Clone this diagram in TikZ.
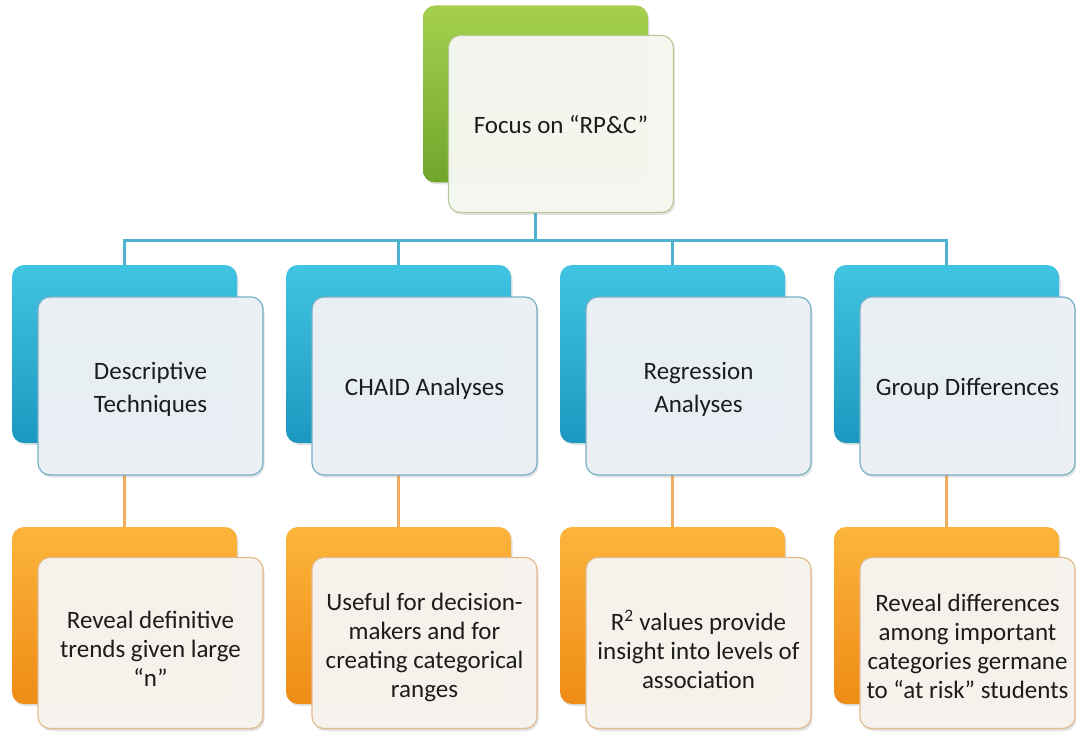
\documentclass[tikz,border=0pt]{standalone}
\usepackage{fontspec}
\setmainfont{Carlito}
\usetikzlibrary{shadows}
\definecolor{grnT}{RGB}{165,208,78}
\definecolor{grnB}{RGB}{112,165,42}
\definecolor{bluT}{RGB}{64,196,226}
\definecolor{bluB}{RGB}{28,152,192}
\definecolor{orgT}{RGB}{252,180,58}
\definecolor{orgB}{RGB}{238,140,22}
\definecolor{busblue}{RGB}{78,178,208}
\definecolor{linkorg}{RGB}{240,172,96}
\definecolor{gfill}{RGB}{246,248,242}
\definecolor{gedge}{RGB}{186,204,150}
\definecolor{bfill}{RGB}{237,241,245}
\definecolor{bedge}{RGB}{118,176,198}
\definecolor{ofill}{RGB}{247,244,240}
\definecolor{oedge}{RGB}{226,186,140}
\definecolor{txt}{RGB}{28,28,28}
\begin{document}
\begin{tikzpicture}[x=1pt,y=-1pt,
  back/.style={rounded corners=12pt, minimum width=225pt, inner sep=0pt,
    drop shadow={shadow xshift=1.5pt,shadow yshift=-2pt,opacity=0.22}},
  greenback/.style={back, minimum height=177pt, top color=grnT, bottom color=grnB},
  blueback/.style={back, minimum height=178pt, top color=bluT, bottom color=bluB},
  orangeback/.style={back, minimum height=177pt, top color=orgT, bottom color=orgB},
  front/.style={rounded corners=12pt, minimum width=225pt, inner sep=0pt,
    fill opacity=0.975, line width=1.2pt,
    drop shadow={shadow xshift=1.5pt,shadow yshift=-2.5pt,opacity=0.22}},
  greenfront/.style={front, minimum height=177pt, fill=gfill, draw=gedge},
  bluefront/.style={front, minimum height=178pt, fill=bfill, draw=bedge},
  orangefront/.style={front, minimum height=171pt, fill=ofill, draw=oedge},
  boxtext/.style={align=center, text=txt, inner sep=0pt, font=\fontsize{25}{29}\selectfont},
  midtext/.style={boxtext, font=\fontsize{25}{33}\selectfont},
  bus/.style={draw=busblue, line width=3pt},
  link/.style={draw=linkorg, line width=2.6pt},
]
\useasboundingbox (0,0) rectangle (1076,738);
\fill[white] (0,0) rectangle (1076,738);

% back boxes
\node[greenback] (tb) at (535.5,94) {};
\node[blueback] (m1b) at (124.5,354) {};
\node[blueback] (m2b) at (398.5,354) {};
\node[blueback] (m3b) at (672.5,354) {};
\node[blueback] (m4b) at (946.5,354) {};
\node[orangeback] (b1b) at (124.5,615.5) {};
\node[orangeback] (b2b) at (398.5,615.5) {};
\node[orangeback] (b3b) at (672.5,615.5) {};
\node[orangeback] (b4b) at (946.5,615.5) {};

% connectors
\coordinate (busmid) at (535.5,240);
\draw[bus] (tb.south) -- (busmid);
\draw[bus, line cap=rect] (m1b.north |- busmid) -- (m4b.north |- busmid);
\draw[bus] (m1b.north |- busmid) -- (m1b.north);
\draw[bus] (m2b.north |- busmid) -- (m2b.north);
\draw[bus] (m3b.north |- busmid) -- (m3b.north);
\draw[bus] (m4b.north |- busmid) -- (m4b.north);
\draw[link] (m1b.south) -- (b1b.north);
\draw[link] (m2b.south) -- (b2b.north);
\draw[link] (m3b.south) -- (b3b.north);
\draw[link] (m4b.south) -- (b4b.north);

% front boxes
\node[greenfront] (tf) at (561,124) {};
\node[bluefront] (m1f) at (150.5,386) {};
\node[bluefront] (m2f) at (424.5,386) {};
\node[bluefront] (m3f) at (698.5,386) {};
\node[bluefront, minimum width=215pt] (m4f) at (967.5,386) {};
\node[orangefront] (b1f) at (150.5,643) {};
\node[orangefront] (b2f) at (424.5,643) {};
\node[orangefront] (b3f) at (698.5,643) {};
\node[orangefront, minimum width=215pt] (b4f) at (967.5,643) {};

% texts
\node[boxtext] (tft) at ([yshift=-1pt]tf.center) {Focus on “RP\&C”};
\node[midtext] (m1t) at ([yshift=-3pt]m1f.center) {Descriptive\\Techniques};
\node[midtext] (m2t) at ([yshift=-3pt]m2f.center) {CHAID Analyses};
\node[midtext] (m3t) at ([yshift=-3pt]m3f.center) {Regression\\Analyses};
\node[midtext] (m4t) at ([yshift=-3pt]m4f.center) {Group Differences};
\node[boxtext] (b1t) at ([yshift=-6pt]b1f.center) {Reveal definitive\\trends given large\\“n”};
\node[boxtext] (b2t) at ([yshift=-4pt]b2f.center) {Useful for decision-\\makers and for\\creating categorical\\ranges};
\node[boxtext] (b3t) at ([yshift=-6pt]b3f.center) {R\textsuperscript{2} values provide\\insight into levels of\\association};
\node[boxtext] (b4t) at ([yshift=-3pt]b4f.center) {Reveal differences\\among important\\categories germane\\to “at risk” students};
\end{tikzpicture}
\end{document}
